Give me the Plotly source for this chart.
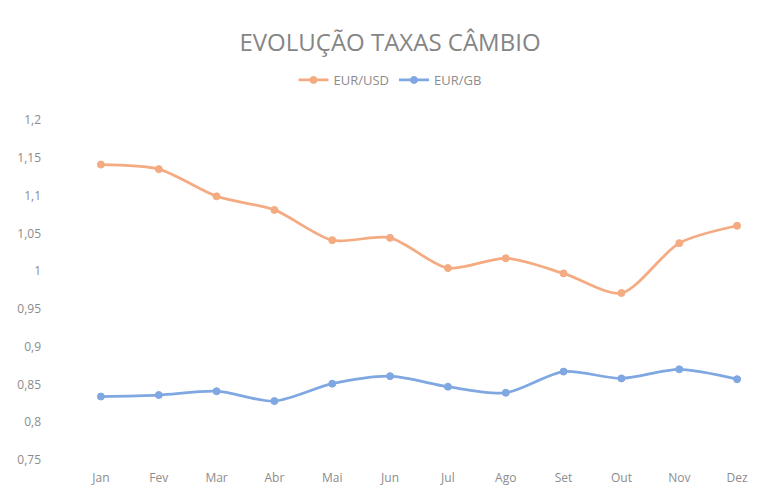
import plotly.graph_objects as go

MONTHS = ['Jan', 'Fev', 'Mar', 'Abr', 'Mai', 'Jun', 'Jul', 'Ago', 'Set', 'Out', 'Nov', 'Dez']
EUR_USD = [1.141, 1.135, 1.099, 1.081, 1.041, 1.044, 1.004, 1.017, 0.997, 0.971, 1.037, 1.060]
EUR_GB = [0.834, 0.836, 0.841, 0.828, 0.851, 0.861, 0.847, 0.839, 0.867, 0.858, 0.870, 0.857]

ORANGE = '#F4AB82'
BLUE = '#7FA7E2'
GREY = '#8C8C8C'
FONT = 'Open Sans, Noto Sans, sans-serif'

# the page body adds an 8px offset, so positions below are shifted up/left by 8
fig = go.Figure()
for name, vals, col in [('EUR/USD', EUR_USD, ORANGE), ('EUR/GB', EUR_GB, BLUE)]:
    fig.add_trace(go.Scatter(
        x=MONTHS, y=vals, name=name,
        mode='lines+markers',
        line=dict(color=col, width=2.75, shape='spline', smoothing=0.8),
        marker=dict(size=7, color=col, line=dict(color=col, width=1)),
    ))

fig.update_layout(
    width=774, height=491,
    paper_bgcolor='white', plot_bgcolor='white',
    margin=dict(l=64, r=16, t=112, b=39),
    separators=',.',
    font=dict(family=FONT, color=GREY, size=12),
    title=dict(text='EVOLUÇÃO TAXAS CÂMBIO', x=382 / 774, xanchor='center',
               y=1 - 35 / 491, yanchor='middle', yref='container',
               font=dict(size=24, color='#858585', family=FONT)),
    legend=dict(orientation='h', xref='container', yref='container',
                x=382 / 774, xanchor='center', y=1 - 72 / 491, yanchor='middle',
                font=dict(size=13, color=GREY), itemwidth=30),
    showlegend=True,
)
fig.update_xaxes(range=[-0.5, 11.5], showgrid=False, zeroline=False, showline=False,
                 automargin=False, ticks='', ticklabelstandoff=9,
                 tickfont=dict(size=12, color=GREY))
fig.update_yaxes(range=[0.75, 1.2], dtick=0.05, tick0=0.75, showgrid=False,
                 zeroline=False, showline=False, automargin=False, ticks='',
                 ticklabelstandoff=30, tickfont=dict(size=12, color=GREY))

fig.write_html('out.html')
